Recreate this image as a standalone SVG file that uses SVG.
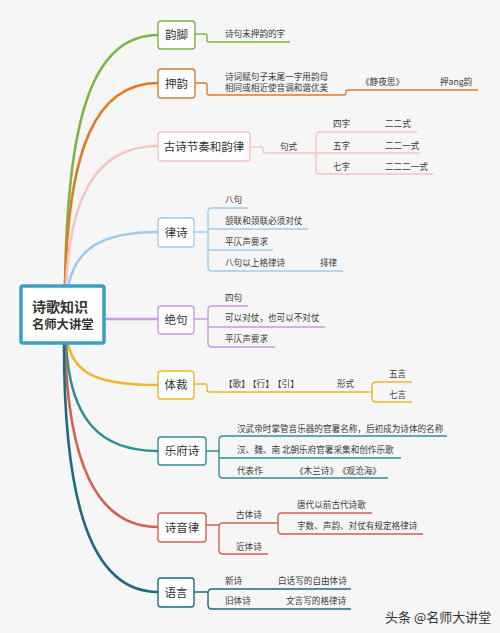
<svg xmlns="http://www.w3.org/2000/svg" width="500" height="633" viewBox="0 0 500 633">
<style>
.t{font-family:"Noto Sans CJK SC","Noto Sans",sans-serif;fill:#333;text-spacing-trim:space-all}
.n{font-size:11.5px}
.s{font-size:8.6px;fill:#3a3a3a}
.box{fill:#fff;stroke-width:1.4}
.m{fill:none;stroke-width:2.6;stroke-linecap:round}
.c{fill:none;stroke-width:1.4}
.g{stroke:#7db544}.o{stroke:#e07b28}.p{stroke:#f6c4c2}.b{stroke:#9dcdee}.v{stroke:#c89be2}.y{stroke:#f1b526}.tl{stroke:#2f8f93}.r{stroke:#d4604e}.d{stroke:#1d6b82}
</style>
<rect width="500" height="633" fill="#f6f6f6"/>
<g id="connectors">
<path class="m g" d="M65,287 C67,110 95,35 158,35"/>
<path class="m o" d="M65,287 C68,150 95,83 158,83"/>
<path class="m p" d="M66,287 C70,190 100,146 158,146"/>
<path class="m b" d="M68,287 C75,250 100,232 158,232"/>
<path class="m v" d="M104,319 H158"/>
<path class="m y" d="M68,344 C75,375 100,385 158,385"/>
<path class="m tl" d="M66,344 C70,420 100,451 158,451"/>
<path class="m r" d="M65,344 C68,460 95,527 158,527"/>
<path class="m d" d="M64,344 C64,500 90,592 158,592"/>
<path class="c g" d="M195,34 H205 Q207,34 207,36 V40 Q207,42 209,42 H290"/>
<path class="c o" d="M195,83 H205 Q207,83 207,85 V93 Q207,95 209,95 H344 Q346,95 346,93 V92 Q346,90 348,90 H478"/>
<path class="c p" d="M250,147 H261 Q263,147 263,149 V151 Q263,153 265,153 H316"/>
<path class="c p" d="M417,132 H320 Q316,132 316,136 V170 Q316,174 320,174 H433 M316,153 H420"/>
<path class="c b" d="M194,232 H208 M248,208 H212 Q208,208 208,212 V267 Q208,271 212,271 H343 M208,229 H308 M208,250 H273"/>
<path class="c v" d="M194,319 H208 M248,306 H212 Q208,306 208,310 V343 Q208,347 212,347 H275 M208,327 H325"/>
<path class="c y" d="M194,384 H205 Q207,384 207,386 V390 Q207,392 209,392 H372 M412,382 H376 Q372,382 372,386 V398 Q372,402 376,402 H412"/>
<path class="c tl" d="M206,451 H219 M447,436 H223 Q219,436 219,440 V474 Q219,478 223,478 H388 M219,458 H401"/>
<path class="c r" d="M206,525 H219 M278,523 H223 Q219,523 219,527 V550 Q219,554 223,554 H268 M372,513 H282 Q278,513 278,517 V530 Q278,534 282,534 H423"/>
<path class="c d" d="M194,592 H208 M351,589 H212 Q208,589 208,593 V605 Q208,609 212,609 H351"/>
</g>
<g id="root">
<rect x="21" y="286" width="83" height="57" rx="2" fill="#fff" stroke="#3aa0c3" stroke-width="3.5"/>
<text class="t" x="32" y="312" font-size="14" font-weight="bold">诗歌知识</text>
<text class="t" x="32" y="329" font-size="12.3" font-weight="bold">名师大讲堂</text>
</g>
<g id="yunjiao">
<rect class="box g" x="158" y="21" width="37" height="28" rx="3"/>
<text class="t n" x="176.5" y="39" text-anchor="middle">韵脚</text>
<text class="t s" x="225" y="37">诗句末押韵的字</text>
</g>
<g id="yayun">
<rect class="box o" x="158" y="69" width="37" height="29" rx="3"/>
<text class="t n" x="176.5" y="88" text-anchor="middle">押韵</text>
<text class="t s" x="225" y="80">诗词赋句子末尾一字用韵母</text>
<text class="t s" x="225" y="91">相同或相近使音调和谐优美</text>
<text class="t s" x="361" y="85">《静夜思》</text>
<text class="t s" x="440" y="85">押ang韵</text>
</g>
<g id="jiezou">
<rect class="box p" x="158" y="132" width="92" height="29" rx="3"/>
<text class="t n" x="204" y="151" text-anchor="middle">古诗节奏和韵律</text>
<text class="t s" x="280" y="150">句式</text>
<text class="t s" x="333" y="127">四字</text>
<text class="t s" x="385" y="127">二二式</text>
<text class="t s" x="333" y="149">五字</text>
<text class="t s" x="385" y="149">二二一式</text>
<text class="t s" x="333" y="170">七字</text>
<text class="t s" x="385" y="170">二二二一式</text>
</g>
<g id="lvshi">
<rect class="box b" x="158" y="218" width="36" height="29" rx="3"/>
<text class="t n" x="176" y="237" text-anchor="middle">律诗</text>
<text class="t s" x="225" y="203">八句</text>
<text class="t s" x="225" y="224">颔联和颈联必须对仗</text>
<text class="t s" x="225" y="245">平仄声要求</text>
<text class="t s" x="225" y="266">八句以上格律诗</text>
<text class="t s" x="320" y="266">排律</text>
</g>
<g id="jueju">
<rect class="box v" x="158" y="306" width="36" height="28" rx="3"/>
<text class="t n" x="176" y="324" text-anchor="middle">绝句</text>
<text class="t s" x="225" y="301">四句</text>
<text class="t s" x="225" y="321">可以对仗，也可以不对仗</text>
<text class="t s" x="225" y="342">平仄声要求</text>
</g>
<g id="ticai">
<rect class="box y" x="158" y="371" width="36" height="28" rx="3"/>
<text class="t n" x="176" y="389" text-anchor="middle">体裁</text>
<text class="t s" x="224" y="387">【歌】</text>
<text class="t s" x="248" y="387">【行】</text>
<text class="t s" x="273" y="387">【引】</text>
<text class="t s" x="337" y="387">形式</text>
<text class="t s" x="389" y="377">五言</text>
<text class="t s" x="389" y="398">七言</text>
</g>
<g id="yuefushi">
<rect class="box tl" x="158" y="437" width="48" height="28" rx="3"/>
<text class="t n" x="182" y="455" text-anchor="middle">乐府诗</text>
<text class="t s" x="237" y="432">汉武帝时掌管音乐器的官署名称，后初成为诗体的名称</text>
<text class="t s" x="237" y="453">汉、魏、南 北朝乐府官署采集和创作乐歌</text>
<text class="t s" x="237" y="474">代表作</text>
<text class="t s" x="295" y="474">《木兰诗》《观沧海》</text>
</g>
<g id="shiyinlv">
<rect class="box r" x="158" y="513" width="48" height="29" rx="3"/>
<text class="t n" x="182" y="532" text-anchor="middle">诗音律</text>
<text class="t s" x="236" y="518">古体诗</text>
<text class="t s" x="236" y="550">近体诗</text>
<text class="t s" x="297" y="508">唐代以前古代诗歌</text>
<text class="t s" x="297" y="529">字数、声韵、对仗有规定格律诗</text>
</g>
<g id="yuyan">
<rect class="box d" x="158" y="578" width="36" height="29" rx="3"/>
<text class="t n" x="176" y="597" text-anchor="middle">语言</text>
<text class="t s" x="225" y="584">新诗</text>
<text class="t s" x="278" y="584">白话写的自由体诗</text>
<text class="t s" x="225" y="604">旧体诗</text>
<text class="t s" x="286" y="604">文言写的格律诗</text>
</g>
<text class="t" x="385" y="622" font-size="13" fill="#444">头条 @名师大讲堂</text>
</svg>
